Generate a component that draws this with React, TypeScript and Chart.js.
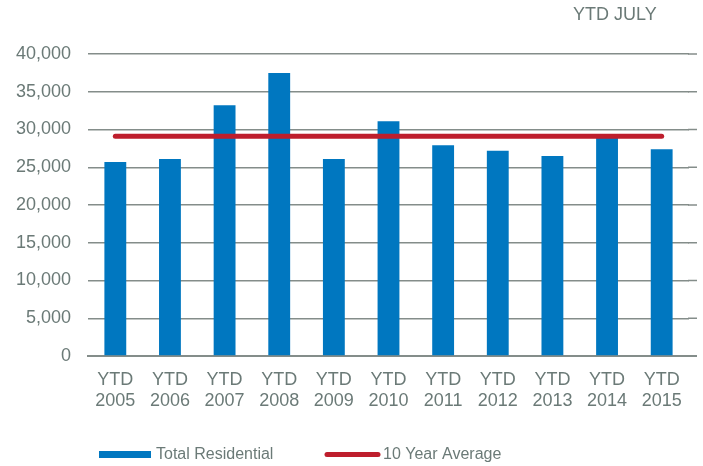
import React, { useEffect, useRef } from "react";
import { Chart, registerables } from "chart.js";

Chart.register(...registerables);

const categories: string[][] = [
  ["YTD", "2005"], ["YTD", "2006"], ["YTD", "2007"], ["YTD", "2008"], ["YTD", "2009"],
  ["YTD", "2010"], ["YTD", "2011"], ["YTD", "2012"], ["YTD", "2013"], ["YTD", "2014"], ["YTD", "2015"],
];
const totalResidential: number[] = [25700, 26100, 33200, 37500, 26100, 31100, 27900, 27200, 26500, 29200, 27400];
const tenYearAverage: number[] = [29100, 29100, 29100, 29100, 29100, 29100, 29100, 29100, 29100, 29100, 29100];
const yTicks: number[] = [0, 5000, 10000, 15000, 20000, 25000, 30000, 35000, 40000];
const titleText = "YTD JULY";

const BLUE = "#0077c0";
const RED = "#be1e2d";
const TEXT = "#6b7a77";
const GRID = "#848d8a";
const FONT = "'Liberation Sans', Arial, sans-serif";
const GRID_END = 697;

export default function App() {
  const ref = useRef<HTMLCanvasElement | null>(null);
  useEffect(() => {
    document.body.style.margin = "0";
    const canvas = ref.current!;
    const extras = {
      id: "extras",
      beforeDatasetsDraw(chart: any) {
        // extend gridlines a little beyond the category area
        const ctx = chart.ctx as CanvasRenderingContext2D;
        const y = chart.scales.y;
        const right = chart.chartArea.right;
        ctx.save();
        ctx.strokeStyle = GRID;
        yTicks.forEach((v) => {
          const py = y.getPixelForValue(v);
          ctx.lineWidth = v === 0 ? 2 : 1.5;
          ctx.beginPath();
          ctx.moveTo(right - 1, py);
          ctx.lineTo(GRID_END, py);
          ctx.stroke();
        });
        ctx.restore();
      },
      afterDraw(chart: any) {
        const ctx = chart.ctx as CanvasRenderingContext2D;
        ctx.save();
        ctx.font = `18px ${FONT}`;
        ctx.fillStyle = TEXT;
        ctx.textBaseline = "middle";
        ctx.textAlign = "left";
        ctx.fillText(titleText, 573, 15);
        // legend
        const ds = chart.data.datasets;
        ctx.fillStyle = ds[0].backgroundColor;
        ctx.fillRect(99, 451, 52, 7);
        ctx.fillStyle = TEXT;
        ctx.font = `16px ${FONT}`;
        ctx.fillText(ds[0].label, 156, 455);
        ctx.strokeStyle = ds[1].borderColor;
        ctx.lineWidth = 5;
        ctx.lineCap = "round";
        ctx.beginPath();
        ctx.moveTo(327, 454.5);
        ctx.lineTo(378, 454.5);
        ctx.stroke();
        ctx.fillText(ds[1].label, 383, 455);
        ctx.restore();
      },
    };
    const chart = new Chart(canvas, {
      type: "bar",
      data: {
        labels: categories,
        datasets: [
          {
            type: "bar",
            label: "Total Residential",
            data: totalResidential,
            backgroundColor: BLUE,
            categoryPercentage: 1,
            barPercentage: 0.4,
            order: 2,
          },
          {
            type: "line",
            label: "10 Year Average",
            data: tenYearAverage,
            borderColor: RED,
            backgroundColor: RED,
            borderWidth: 5,
            borderCapStyle: "round",
            pointRadius: 0,
            fill: false,
            order: 1,
          } as any,
        ],
      },
      plugins: [extras],
      options: {
        animation: false,
        responsive: false,
        maintainAspectRatio: false,
        layout: { padding: { top: 54, right: 14, left: 1, bottom: 0 } },
        plugins: { legend: { display: false }, tooltip: { enabled: false }, title: { display: false } },
        scales: {
          x: {
            grid: { display: false, drawTicks: false },
            border: { display: true, color: GRID, width: 2 },
            ticks: { color: TEXT, font: { family: FONT, size: 18, lineHeight: 1.15 }, padding: 14, maxRotation: 0, autoSkip: false },
            afterFit(scale: any) { scale.height = 110; },
          },
          y: {
            min: 0,
            max: 40000,
            afterBuildTicks(scale: any) { scale.ticks = yTicks.map((v) => ({ value: v })); },
            grid: { color: GRID, lineWidth: 1.5, drawTicks: false },
            border: { display: false },
            ticks: {
              color: TEXT,
              font: { family: FONT, size: 18 },
              padding: 17,
              callback: (v: any) => Number(v).toLocaleString("en-US"),
            },
            afterFit(scale: any) { scale.width = 87; },
          },
        },
      },
    });
    return () => chart.destroy();
  }, []);
  return (
    <div style={{ width: 703, height: 466, position: "relative", background: "#fff" }}>
      <canvas ref={ref} width={703} height={466} style={{ display: "block" }} />
    </div>
  );
}
